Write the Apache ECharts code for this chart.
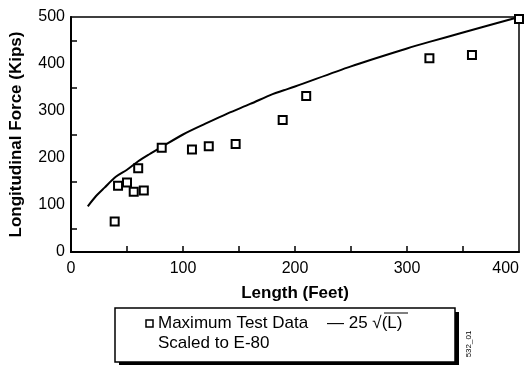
<!DOCTYPE html>
<html><head><meta charset="utf-8">
<script src="https://cdn.jsdelivr.net/npm/echarts@6/dist/echarts.min.js"></script>
<style>html,body{margin:0;padding:0;background:#fff}#c{width:525px;height:365px}</style>
</head><body><div id="c"></div>
<script>
// Maximum test data (scaled to E-80): [length ft, force kips]
const testLength = [39, 42, 50, 56, 60, 65, 81, 108, 123, 147, 189, 210, 320, 358, 400];
const testForce  = [65, 141, 148, 128, 178, 131, 222, 218, 225, 230, 281, 332, 412, 419, 496];
// 25 sqrt(L) curve
const curveLength = [15, 22, 30, 40, 50, 60, 70, 80, 100, 120, 140, 160, 180, 190, 200, 250, 300, 320, 350, 400];
const curveForce  = [97, 118, 137, 160, 175, 193, 208, 222, 250, 273, 295, 315, 336, 344, 352, 395, 433, 447, 467, 500];
const xTickLabels = [0, 100, 200, 300, 400];
const yTickLabels = [0, 100, 200, 300, 400, 500];

const font = 'Liberation Sans, Arial, sans-serif';
const chart = echarts.init(document.getElementById('c'), null, {renderer: 'canvas'});
chart.setOption({
  animation: false,
  backgroundColor: '#fff',
  grid: {left: 71, right: 6, top: 17, bottom: 113, outerBoundsMode: 'none', containLabel: false,
         show: true, borderColor: '#000', borderWidth: 1.5, backgroundColor: 'transparent'},
  xAxis: {
    type: 'value', min: 0, max: 400, interval: 50,
    name: 'Length (Feet)', nameLocation: 'middle', nameGap: 33,
    nameTextStyle: {fontFamily: font, fontSize: 17, fontWeight: 'bold', color: '#000'},
    axisLine: {show: true, lineStyle: {color: '#000', width: 2}},
    axisTick: {show: true, inside: true, length: 6, lineStyle: {color: '#000', width: 1.5}, customValues: [50, 100, 150, 200, 250, 300, 350]},
    axisLabel: {fontFamily: font, fontSize: 16, color: '#000', margin: 9, customValues: xTickLabels, alignMaxLabel: 'right'},
    splitLine: {show: false}
  },
  yAxis: {
    type: 'value', min: 0, max: 500, interval: 50,
    name: 'Longitudinal Force (Kips)', nameLocation: 'middle', nameGap: 46, nameRotate: 90,
    nameTextStyle: {fontFamily: font, fontSize: 17, fontWeight: 'bold', color: '#000'},
    axisLine: {show: true, lineStyle: {color: '#000', width: 2}},
    axisTick: {show: true, inside: true, length: 6, lineStyle: {color: '#000', width: 1.5}, customValues: [50, 150, 250, 350, 450]},
    axisLabel: {fontFamily: font, fontSize: 16, color: '#000', margin: 6, customValues: yTickLabels},
    splitLine: {show: false}
  },
  series: [
    {type: 'line', data: curveLength.map((x, i) => [x, curveForce[i]]), showSymbol: false, smooth: 0.3,
     lineStyle: {color: '#000', width: 2}, z: 2},
    {type: 'scatter', data: testLength.map((x, i) => [x, testForce[i]]), symbol: 'rect', symbolSize: 8,
     itemStyle: {color: '#fff', borderColor: '#000', borderWidth: 2, opacity: 1}, z: 3}
  ],
  graphic: [
    {type: 'rect', shape: {x: 119, y: 312, width: 340, height: 54}, style: {fill: '#000'}},
    {type: 'rect', shape: {x: 115, y: 308, width: 340, height: 54}, style: {fill: '#fff', stroke: '#000', lineWidth: 1.5}},
    {type: 'rect', shape: {x: 146, y: 320, width: 7, height: 7}, style: {fill: '#fff', stroke: '#000', lineWidth: 1.5}},
    {type: 'text', x: 158, y: 323, style: {text: 'Maximum Test Data', font: '17px ' + font, fill: '#000', textVerticalAlign: 'middle'}},
    {type: 'text', x: 158, y: 343, style: {text: 'Scaled to E-80', font: '17px ' + font, fill: '#000', textVerticalAlign: 'middle'}},
    {type: 'text', x: 327, y: 323, style: {text: '— 25 √(L)', font: '17px ' + font, fill: '#000', textVerticalAlign: 'middle'}},
    {type: 'line', shape: {x1: 384, y1: 313, x2: 408, y2: 313}, style: {stroke: '#000', lineWidth: 1}},
    {type: 'text', x: 469, y: 344, rotation: Math.PI / 2, style: {text: '532_01', font: '8px ' + font, fill: '#000', textAlign: 'center', textVerticalAlign: 'middle'}}
  ]
});
</script></body></html>
